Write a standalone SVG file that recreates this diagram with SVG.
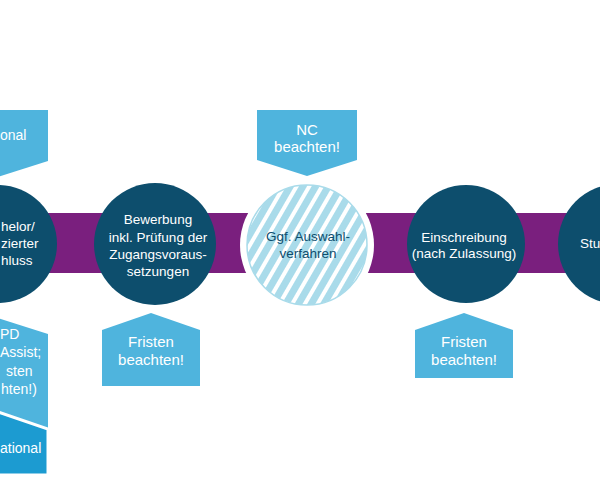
<svg xmlns="http://www.w3.org/2000/svg" width="600" height="480" viewBox="0 0 600 480">
<style>
.dk{fill:#0d4e6d}
.bx{fill:#4fb4dd}
.bx2{fill:#1c9bd1}
.t{font-family:"Liberation Sans",Arial,sans-serif;font-size:13.5px;fill:#ffffff;text-anchor:middle}
.tb{font-family:"Liberation Sans",Arial,sans-serif;font-size:15px;fill:#ffffff;text-anchor:middle}
.ts{text-anchor:start}
.sm{font-size:14px}
.td{fill:#0d4e6d}
</style>
<defs>
<pattern id="hatch" width="11" height="11" patternUnits="userSpaceOnUse" patternTransform="rotate(30)">
<rect width="11" height="11" fill="#ffffff"/>
<rect width="7" height="11" fill="#a9dbea"/>
</pattern>
</defs>
<rect width="600" height="480" fill="#ffffff"/>
<g id="connectors">
<rect x="0" y="213" width="600" height="60" fill="#7a1f7e"/>
</g>
<g id="node-bachelor">
<circle cx="-2" cy="244" r="59" class="dk"/>
<text class="t ts" x="1" y="231">helor/</text>
<text class="t ts" x="1" y="248">zierter</text>
<text class="t ts" x="1" y="265">hluss</text>
</g>
<g id="node-bewerbung">
<circle cx="155" cy="244" r="61" class="dk"/>
<text class="t" x="158" y="224">Bewerbung</text>
<text class="t" x="158" y="242">inkl. Prüfung der</text>
<text class="t" x="158" y="259">Zugangsvoraus-</text>
<text class="t" x="158" y="276">setzungen</text>
</g>
<g id="node-auswahl">
<circle cx="307" cy="245" r="67" fill="#ffffff"/>
<circle cx="307" cy="245" r="60" fill="url(#hatch)" stroke="#a9dbea" stroke-width="1.5"/>
<text class="t td" x="308" y="241">Ggf. Auswahl-</text>
<text class="t td" x="308" y="258">verfahren</text>
</g>
<g id="node-einschreibung">
<circle cx="466" cy="244" r="59" class="dk"/>
<text class="t" x="464" y="242">Einschreibung</text>
<text class="t" x="464" y="258">(nach Zulassung)</text>
</g>
<g id="node-studium">
<circle cx="618" cy="244" r="60" class="dk"/>
<text class="t ts" x="580" y="248">Stu</text>
</g>
<g id="box-top-left">
<polygon points="-52,110 48,110 48,161 -2,177 -52,161" class="bx"/>
<text class="tb ts sm" x="0" y="140">onal</text>
</g>
<g id="box-nc">
<polygon points="257,110 357,110 357,160 307,176 257,160" class="bx"/>
<text class="tb" x="307" y="135">NC</text>
<text class="tb" x="307" y="152">beachten!</text>
</g>
<g id="box-fristen-1">
<polygon points="102,330 151,313 200,330 200,386 102,386" class="bx"/>
<text class="tb" x="151" y="347">Fristen</text>
<text class="tb" x="151" y="365">beachten!</text>
</g>
<g id="box-fristen-2">
<polygon points="415,330 464,313 513,330 513,378 415,378" class="bx"/>
<text class="tb" x="464" y="347">Fristen</text>
<text class="tb" x="464" y="365">beachten!</text>
</g>
<g id="box-bottom-left-1">
<polygon points="-52,334 -2,318 48,334 48,430 -52,430" class="bx"/>
<text class="tb ts sm" x="0" y="339">PD</text>
<text class="tb ts sm" x="0" y="357">Assist;</text>
<text class="tb ts sm" x="6" y="376">sten</text>
<text class="tb ts sm" x="1" y="394">hten!)</text>
</g>
<g id="box-bottom-left-2">
<polygon points="-52,429 -2,412 48,429 48,475 -52,475" class="bx2" stroke="#ffffff" stroke-width="3" stroke-linejoin="miter"/>
<text class="tb ts sm" x="0" y="453">ational</text>
</g>
</svg>
